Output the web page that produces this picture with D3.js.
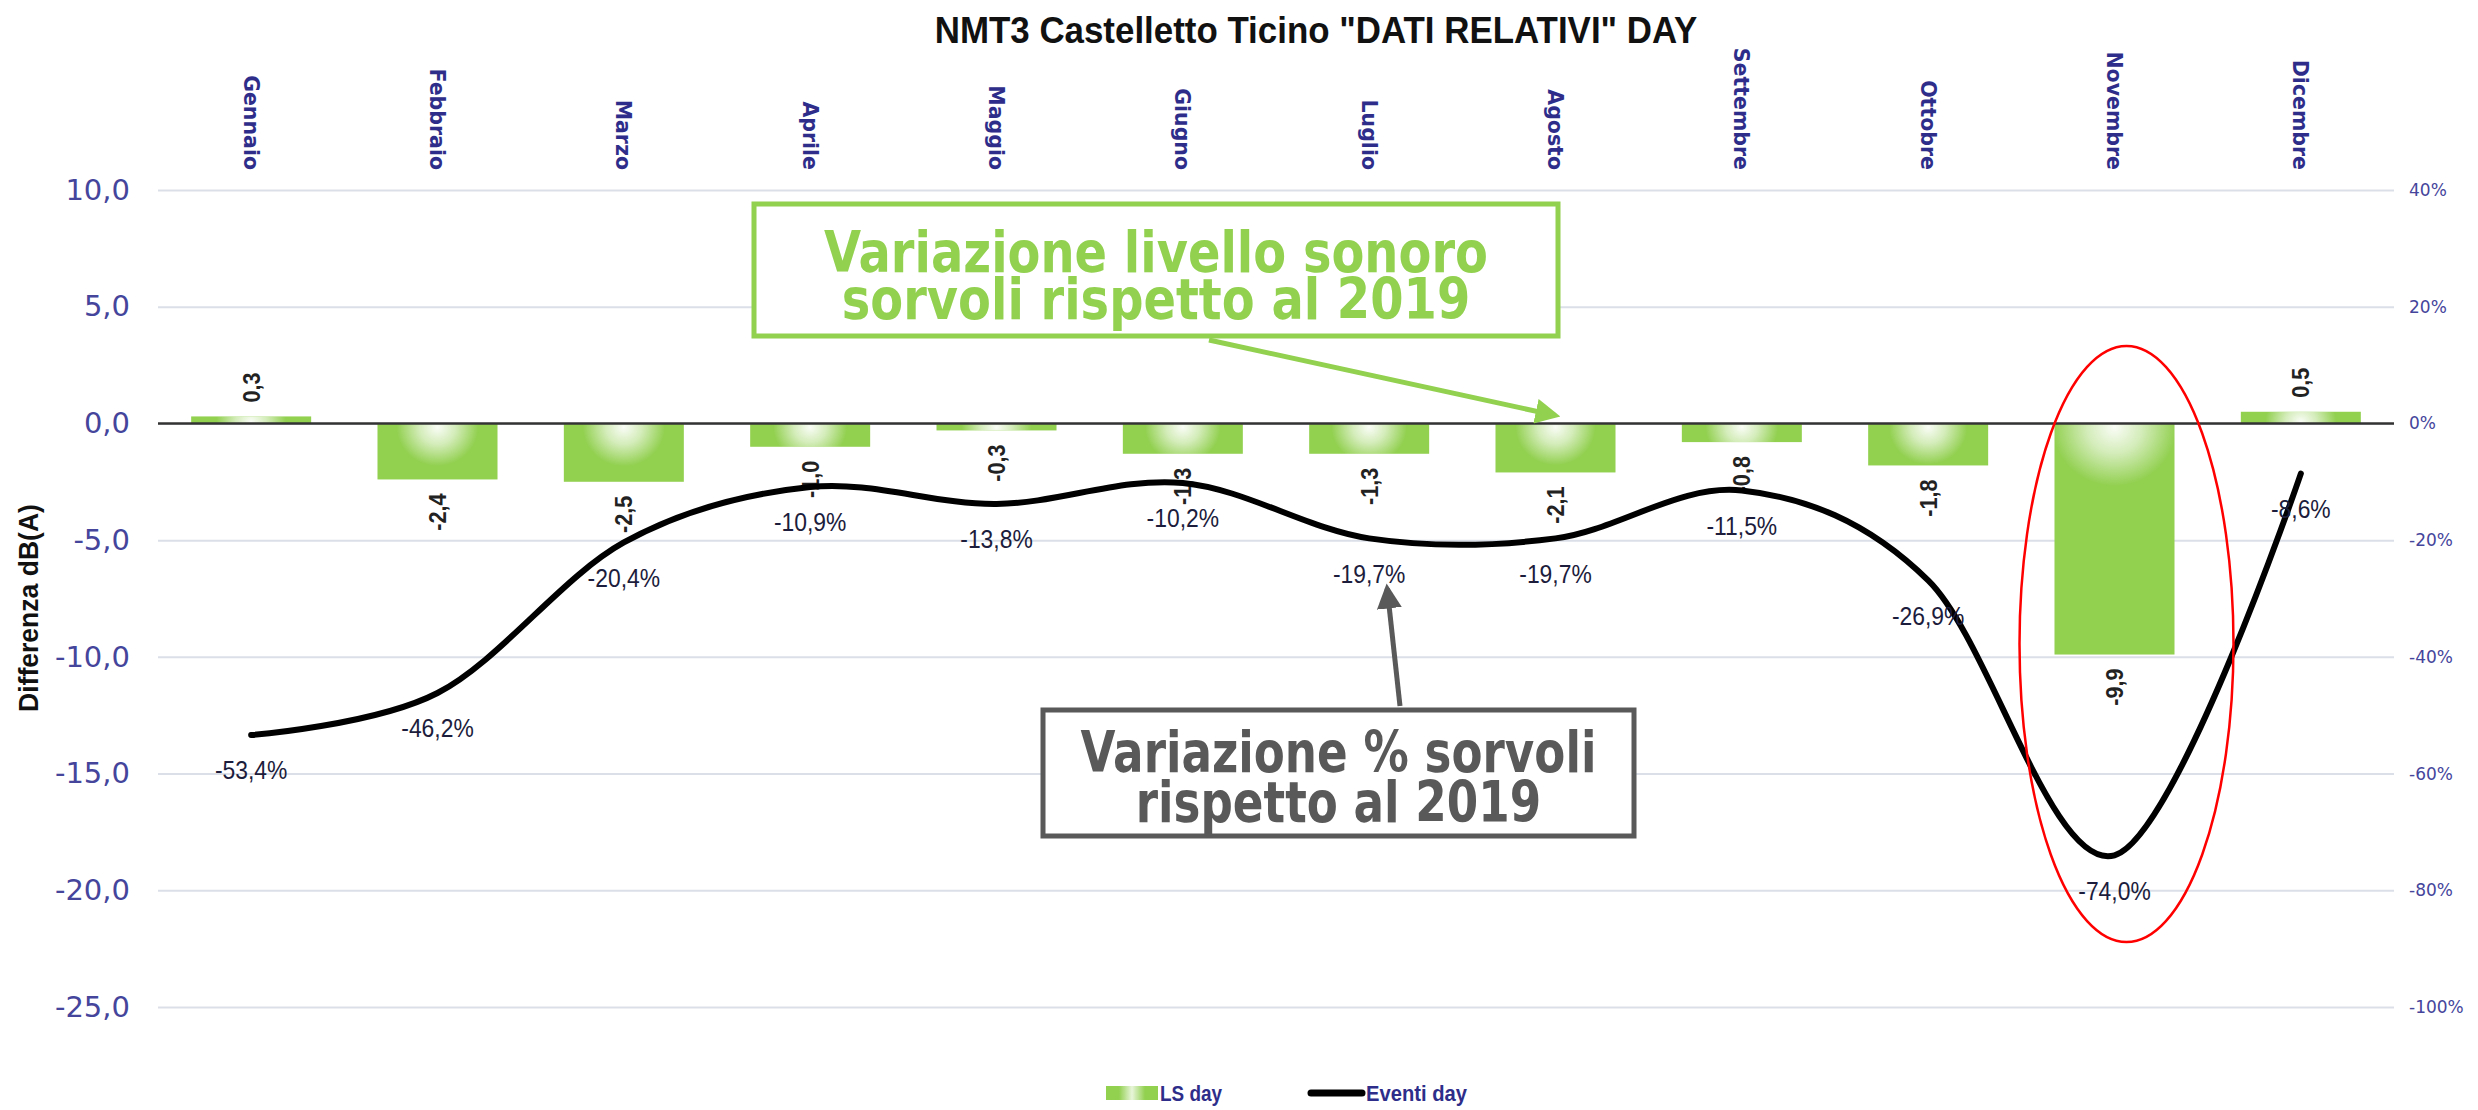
<!DOCTYPE html>
<html><head><meta charset="utf-8">
<script src="https://cdn.jsdelivr.net/npm/d3@7"></script>
<style>
html,body{margin:0;padding:0;background:#fff;}
svg{display:block;}
</style></head>
<body>
<svg id="chart" width="2478" height="1110"></svg>
<script>
// ---------------- DATA ----------------
const months = ["Gennaio","Febbraio","Marzo","Aprile","Maggio","Giugno","Luglio","Agosto","Settembre","Ottobre","Novembre","Dicembre"];
const lsDay = [0.3, -2.4, -2.5, -1.0, -0.3, -1.3, -1.3, -2.1, -0.8, -1.8, -9.9, 0.5];        // dB(A)
const eventiDay = [-53.4, -46.2, -20.4, -10.9, -13.8, -10.2, -19.7, -19.7, -11.5, -26.9, -74.0, -8.6]; // %
const leftTicks = [10, 5, 0, -5, -10, -15, -20, -25];
const rightTicks = [40, 20, 0, -20, -40, -60, -80, -100];
const titleText = 'NMT3 Castelletto Ticino "DATI RELATIVI" DAY';
const yTitle = "Differenza dB(A)";
const legendLabels = ["LS day", "Eventi day"];
const greenNote = ["Variazione livello sonoro", "sorvoli rispetto al 2019"];
const grayNote = ["Variazione % sorvoli", "rispetto al 2019"];

// ---------------- SETUP ----------------
const svg = d3.select("#chart");
const W = 2478, H = 1110;
const plot = {left: 158, right: 2394, top: 190, bottom: 1007};
const GREEN = "#92D050";
const AXIS_BLUE = "#45459c";
const NAVY = "#2e2e8a";
const narrow = "'Liberation Sans Narrow','Liberation Sans',Arial,sans-serif";
const verd = "'DejaVu Sans',Verdana,sans-serif";

const loc = d3.formatLocale({decimal: ",", thousands: ".", grouping: [3], currency: ["", "€"], minus: "-"});
const f1 = loc.format(".1f");
const f0 = loc.format(".0f");

const x = d3.scaleBand().domain(months).range([plot.left, plot.right]).paddingInner(0.356).paddingOuter(0.178);
const y = d3.scaleLinear().domain([-25, 10]).range([plot.bottom, plot.top]);
const yR = d3.scaleLinear().domain([-100, 40]).range([plot.bottom, plot.top]);
const cx = m => x(m) + x.bandwidth() / 2;

svg.append("rect").attr("width", W).attr("height", H).attr("fill", "#fff");

// compress text horizontally (condensed look) so that it spans target width
function squeeze(sel, target, ax, ay) {
  const len = sel.node().getComputedTextLength();
  const k = target / len;
  sel.attr("transform", `translate(${ax},${ay}) scale(${k},1) translate(${-ax},${-ay})`);
  return k;
}

// Title
const title = svg.append("text").attr("x", 1316).attr("y", 43).attr("text-anchor", "middle")
  .attr("font-family", narrow).attr("font-weight", "bold").attr("font-size", 36).attr("fill", "#111").text(titleText);
squeeze(title, 763, 1316, 43);

// Gridlines (left axis)
const gridAxis = d3.axisLeft(y).tickValues(leftTicks).tickSize(-(plot.right - plot.left)).tickFormat("");
const gGrid = svg.append("g").attr("transform", `translate(${plot.left},0)`).call(gridAxis);
gGrid.select(".domain").remove();
gGrid.selectAll(".tick text").remove();
gGrid.selectAll(".tick line").attr("stroke", "#dbe0e8").attr("stroke-width", 2);

// Left tick labels
const leftAxis = d3.axisLeft(y).tickValues(leftTicks).tickSize(0).tickPadding(0).tickFormat(d => f1(d));
const gL = svg.append("g").attr("transform", `translate(130,0)`).call(leftAxis);
gL.select(".domain").remove();
gL.selectAll("text").attr("font-family", verd).attr("font-size", 29).attr("fill", AXIS_BLUE);

// Right tick labels
const rightAxis = d3.axisRight(yR).tickValues(rightTicks).tickSize(0).tickPadding(0).tickFormat(d => f0(d) + "%");
const gR = svg.append("g").attr("transform", `translate(2409,0)`).call(rightAxis);
gR.select(".domain").remove();
gR.selectAll("text").attr("font-family", verd).attr("font-size", 17).attr("fill", AXIS_BLUE);

// Month labels on top (rotated, reading downward)
const xAxis = d3.axisTop(x).tickSize(0).tickPadding(0);
const gX = svg.append("g").attr("transform", `translate(0,170)`).call(xAxis);
gX.select(".domain").remove();
gX.selectAll("text").attr("transform", "rotate(90)").attr("text-anchor", "end")
  .attr("x", 0).attr("y", 0).attr("dy", "0.36em")
  .attr("font-family", verd).attr("font-weight", "bold").attr("font-size", 20.5).attr("fill", NAVY);

// Y axis title
const yt = svg.append("text").attr("x", 0).attr("y", 0).attr("dy", "0.36em").attr("text-anchor", "middle")
  .attr("font-family", narrow).attr("font-weight", "bold").attr("font-size", 28).attr("fill", "#111").text(yTitle);
const ytk = 208 / yt.node().getComputedTextLength();
yt.attr("transform", `translate(28,608) rotate(-90) scale(${ytk},1)`);

// Bars
const defs = svg.append("defs");
const barData = months.map((m, i) => ({m, v: lsDay[i], i}));
barData.forEach(d => {
  const h = Math.abs(y(d.v) - y(0));
  const r = 34 + Math.min(h, 240) * 0.12;
  const g = defs.append("radialGradient").attr("id", "bg" + d.i)
    .attr("gradientUnits", "userSpaceOnUse")
    .attr("cx", cx(d.m)).attr("cy", y(0) + (d.v < 0 ? 4 : -2)).attr("r", r)
    .attr("gradientTransform", `translate(${cx(d.m)},${y(0)}) scale(1,${d.v < 0 ? 0.95 : 0.9}) translate(${-cx(d.m)},${-y(0)})`);
  g.append("stop").attr("offset", "0%").attr("stop-color", "#fff").attr("stop-opacity", 0.95);
  g.append("stop").attr("offset", "45%").attr("stop-color", "#fff").attr("stop-opacity", 0.6);
  g.append("stop").attr("offset", "100%").attr("stop-color", "#fff").attr("stop-opacity", 0);
});
const gBars = svg.append("g");
gBars.selectAll("rect.bar").data(barData).join("rect").attr("class", "bar")
  .attr("x", d => x(d.m)).attr("width", x.bandwidth())
  .attr("y", d => Math.min(y(d.v), y(0))).attr("height", d => Math.abs(y(d.v) - y(0)))
  .attr("fill", GREEN);
gBars.selectAll("rect.hl").data(barData).join("rect").attr("class", "hl")
  .attr("x", d => x(d.m)).attr("width", x.bandwidth())
  .attr("y", d => Math.min(y(d.v), y(0))).attr("height", d => Math.abs(y(d.v) - y(0)))
  .attr("fill", d => `url(#bg${d.i})`);

// Zero line
svg.append("line").attr("x1", plot.left).attr("x2", plot.right).attr("y1", y(0)).attr("y2", y(0))
  .attr("stroke", "#333").attr("stroke-width", 2.5);

// Bar labels (rotated, reading upward)
svg.append("g").selectAll("text").data(barData).join("text")
  .attr("transform", d => `translate(${cx(d.m)},${d.v >= 0 ? y(d.v) - 14 : y(d.v) + 14}) rotate(-90) scale(0.9,1)`)
  .attr("text-anchor", d => d.v >= 0 ? "start" : "end").attr("dy", "0.36em")
  .attr("font-family", narrow).attr("font-weight", "bold").attr("font-size", 24).attr("fill", "#222")
  .text(d => f1(d.v));

// Line
const lineData = months.map((m, i) => ({m, v: eventiDay[i]}));
const line = d3.line().x(d => cx(d.m)).y(d => yR(d.v)).curve(d3.curveCardinal.tension(0));
svg.append("path").datum(lineData).attr("d", line).attr("fill", "none")
  .attr("stroke", "#000").attr("stroke-width", 6).attr("stroke-linecap", "round").attr("stroke-linejoin", "round");

// Line labels
svg.append("g").selectAll("text").data(lineData).join("text")
  .attr("x", d => cx(d.m)).attr("y", d => yR(d.v) + 35).attr("dy", "0.36em").attr("text-anchor", "middle")
  .attr("font-family", narrow).attr("font-size", 26).attr("fill", "#1c1c3c")
  .attr("transform", d => `translate(${cx(d.m)},0) scale(0.88,1) translate(${-cx(d.m)},0)`)
  .text(d => f1(d.v) + "%");

// ---------------- ANNOTATIONS ----------------
defs.append("marker").attr("id", "arrG").attr("viewBox", "0 0 10 10").attr("refX", 8).attr("refY", 5)
  .attr("markerWidth", 5).attr("markerHeight", 5).attr("orient", "auto")
  .append("path").attr("d", "M0,0 L10,5 L0,10 z").attr("fill", GREEN);
defs.append("marker").attr("id", "arrK").attr("viewBox", "0 0 10 10").attr("refX", 8).attr("refY", 5)
  .attr("markerWidth", 5).attr("markerHeight", 5).attr("orient", "auto")
  .append("path").attr("d", "M0,0 L10,5 L0,10 z").attr("fill", "#595959");

// Green box
const gb = {x0: 754, y0: 204, x1: 1558, y1: 336};
const gmx = (gb.x0 + gb.x1) / 2;
svg.append("rect").attr("x", gb.x0).attr("y", gb.y0).attr("width", gb.x1 - gb.x0).attr("height", gb.y1 - gb.y0)
  .attr("fill", "#fff").attr("stroke", GREEN).attr("stroke-width", 5);
const gt1 = svg.append("text").attr("x", gmx).attr("y", 272).attr("text-anchor", "middle")
  .attr("font-family", verd).attr("font-weight", "bold").attr("font-size", 57).attr("fill", GREEN).text(greenNote[0]);
const gk = squeeze(gt1, 664, gmx, 272);
svg.append("text").attr("x", gmx).attr("y", 319).attr("text-anchor", "middle")
  .attr("font-family", verd).attr("font-weight", "bold").attr("font-size", 57).attr("fill", GREEN)
  .attr("transform", `translate(${gmx},0) scale(${gk},1) translate(${-gmx},0)`).text(greenNote[1]);
svg.append("line").attr("x1", 1209).attr("y1", 340).attr("x2", cx("Agosto")).attr("y2", y(0) - 8)
  .attr("stroke", GREEN).attr("stroke-width", 5).attr("marker-end", "url(#arrG)");

// Gray box
const kb = {x0: 1043, y0: 710, x1: 1634, y1: 836};
const kmx = (kb.x0 + kb.x1) / 2;
svg.append("rect").attr("x", kb.x0).attr("y", kb.y0).attr("width", kb.x1 - kb.x0).attr("height", kb.y1 - kb.y0)
  .attr("fill", "#fff").attr("stroke", "#595959").attr("stroke-width", 5);
const kt1 = svg.append("text").attr("x", kmx).attr("y", 772).attr("text-anchor", "middle")
  .attr("font-family", verd).attr("font-weight", "bold").attr("font-size", 57).attr("fill", "#595959").text(grayNote[0]);
const kk = squeeze(kt1, 516, kmx, 772);
svg.append("text").attr("x", kmx).attr("y", 822).attr("text-anchor", "middle")
  .attr("font-family", verd).attr("font-weight", "bold").attr("font-size", 57).attr("fill", "#595959")
  .attr("transform", `translate(${kmx},0) scale(${kk},1) translate(${-kmx},0)`).text(grayNote[1]);
svg.append("line").attr("x1", 1400).attr("y1", 706).attr("x2", cx("Luglio") + 18).attr("y2", yR(-19.7) + 50)
  .attr("stroke", "#595959").attr("stroke-width", 5).attr("marker-end", "url(#arrK)");

// Red ellipse around Novembre
svg.append("ellipse").attr("cx", cx("Novembre") + 12).attr("cy", 644).attr("rx", 107).attr("ry", 298)
  .attr("fill", "none").attr("stroke", "#ff0000").attr("stroke-width", 2.5);

// ---------------- LEGEND ----------------
const lg = svg.append("g");
const lgGrad = defs.append("linearGradient").attr("id", "lgG");
lgGrad.append("stop").attr("offset", "0%").attr("stop-color", GREEN);
lgGrad.append("stop").attr("offset", "25%").attr("stop-color", GREEN);
lgGrad.append("stop").attr("offset", "50%").attr("stop-color", "#e8f5da");
lgGrad.append("stop").attr("offset", "75%").attr("stop-color", GREEN);
lgGrad.append("stop").attr("offset", "100%").attr("stop-color", GREEN);
lg.append("rect").attr("x", 1106).attr("y", 1086).attr("width", 52).attr("height", 14).attr("fill", "url(#lgG)");
const lt1 = lg.append("text").attr("x", 1160).attr("y", 1093).attr("dy", "0.36em")
  .attr("font-family", narrow).attr("font-weight", "bold").attr("font-size", 22).attr("fill", NAVY).text(legendLabels[0]);
squeeze(lt1, 62, 1160, 1093);
lg.append("line").attr("x1", 1311).attr("x2", 1362).attr("y1", 1093).attr("y2", 1093)
  .attr("stroke", "#000").attr("stroke-width", 7).attr("stroke-linecap", "round");
const lt2 = lg.append("text").attr("x", 1366).attr("y", 1093).attr("dy", "0.36em")
  .attr("font-family", narrow).attr("font-weight", "bold").attr("font-size", 22).attr("fill", NAVY).text(legendLabels[1]);
squeeze(lt2, 101, 1366, 1093);
</script>
</body></html>
